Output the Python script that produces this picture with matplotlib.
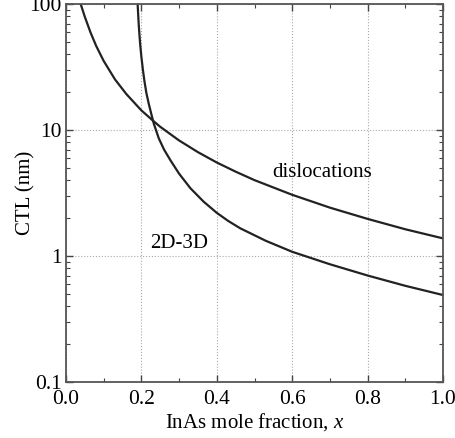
import numpy as np
import matplotlib
matplotlib.use('Agg')
import matplotlib.pyplot as plt
from matplotlib.ticker import LogLocator, FixedLocator, FixedFormatter, MultipleLocator, NullFormatter

# values (CTL in nm vs InAs mole fraction)
x_disl = [0.038, 0.05, 0.065, 0.08, 0.10, 0.13, 0.16, 0.20, 0.233, 0.25, 0.30,
          0.35, 0.40, 0.45, 0.50, 0.60, 0.70, 0.80, 0.90, 1.0]
y_disl = [102, 79, 59.5, 46.5, 35.3, 25.2, 19.3, 14.3, 11.7, 10.6, 8.26,
          6.67, 5.52, 4.67, 4.0, 3.06, 2.42, 1.97, 1.63, 1.38]

x_2d3d = [0.190, 0.1915, 0.193, 0.195, 0.197, 0.200, 0.204, 0.208, 0.213, 0.219, 0.226,
          0.233, 0.246, 0.26, 0.277, 0.30, 0.33, 0.365, 0.40, 0.43, 0.462, 0.53,
          0.60, 0.70, 0.80, 0.90, 1.0]
y_2d3d = [100, 82, 68, 56, 47, 38, 30, 24.5, 19.8, 16.4, 13.5,
          11.2, 8.6, 7.0, 5.75, 4.5, 3.45, 2.7, 2.2, 1.9, 1.66, 1.32,
          1.08, 0.86, 0.70, 0.58, 0.49]

plt.rcParams['font.family'] = ['Liberation Serif', 'DejaVu Serif']
plt.rcParams['mathtext.fontset'] = 'custom'
plt.rcParams['mathtext.it'] = 'Liberation Serif:italic'

fig = plt.figure(figsize=(4.56, 4.38), dpi=100)
ax = fig.add_axes([66 / 456, 1 - 382 / 438, 377 / 456, 378 / 438])

ax.plot(x_disl, y_disl, color='#222222', lw=1.6)
ax.plot(x_2d3d, y_2d3d, color='#222222', lw=1.6)

ax.set_yscale('log')
ax.set_xlim(0, 1.0)
ax.set_ylim(0.1, 100)

ax.set_xticks([0, 0.2, 0.4, 0.6, 0.8, 1.0])
ax.set_xticklabels(['0.0', '0.2', '0.4', '0.6', '0.8', '1.0'])
ax.xaxis.set_minor_locator(MultipleLocator(0.1))

ax.yaxis.set_major_locator(FixedLocator([0.1, 1, 10, 100]))
ax.yaxis.set_major_formatter(FixedFormatter(['0.1', '1', '10', '100']))
ax.yaxis.set_minor_locator(LogLocator(base=10, subs=np.arange(2, 10)))
ax.yaxis.set_minor_formatter(NullFormatter())

ax.tick_params(which='both', direction='in', top=True, right=True, color='#444444')
ax.tick_params(which='major', length=5, width=1, labelsize=15.5)
ax.tick_params(axis='x', which='major', pad=6)
ax.tick_params(axis='y', which='major', pad=3)
ax.tick_params(which='minor', length=3, width=0.8)

for s in ax.spines.values():
    s.set_color('#555555')
    s.set_linewidth(1.3)

ax.grid(which='major', linestyle=':', color='#aaaaaa', linewidth=0.8)

ax.text(0.68, 4.6, 'dislocations', fontsize=15, ha='center', va='center')
ax.text(0.30, 1.25, '2D-3D', fontsize=15, ha='center', va='center')

ax.set_xlabel('InAs mole fraction, $x$', fontsize=15, labelpad=1)
ax.set_ylabel('CTL (nm)', fontsize=15, labelpad=-4)

fig.savefig('out.png', dpi=100)
